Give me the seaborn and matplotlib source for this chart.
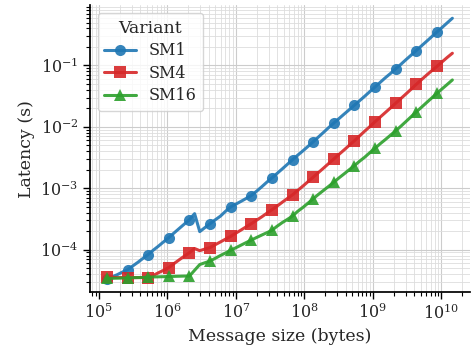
import matplotlib
matplotlib.use("Agg")
import matplotlib.pyplot as plt
import seaborn as sns
import pandas as pd

# message sizes (bytes), quarter-power-of-two steps
sizes = [
    1.311e5, 1.559e5, 1.854e5, 2.204e5, 2.621e5, 3.117e5, 3.707e5, 4.409e5,
    5.243e5, 6.235e5, 7.415e5, 8.818e5, 1.049e6, 1.247e6, 1.483e6, 1.764e6,
    2.097e6, 2.494e6, 2.966e6, 3.527e6, 4.194e6, 4.988e6, 5.932e6, 7.054e6,
    8.389e6, 9.976e6, 1.186e7, 1.411e7, 1.678e7, 1.995e7, 2.373e7, 2.822e7,
    3.355e7, 3.990e7, 4.745e7, 5.643e7, 6.711e7, 7.981e7, 9.491e7, 1.129e8,
    1.342e8, 1.596e8, 1.898e8, 2.257e8, 2.684e8, 3.192e8, 3.796e8, 4.515e8,
    5.369e8, 6.385e8, 7.593e8, 9.029e8, 1.074e9, 1.277e9, 1.519e9, 1.806e9,
    2.147e9, 2.554e9, 3.037e9, 3.612e9, 4.295e9, 5.108e9, 6.074e9, 7.224e9,
    8.590e9, 1.022e10, 1.215e10, 1.445e10,
]

# latency (s)
sm1 = [
    3.3e-5, 3.6e-5, 3.9e-5, 4.3e-5, 4.7e-5, 5.4e-5, 6.2e-5, 7.2e-5,
    8.3e-5, 9.8e-5, 1.14e-4, 1.34e-4, 1.57e-4, 1.86e-4, 2.2e-4, 2.6e-4,
    3.07e-4, 3.85e-4, 1.96e-4, 2.28e-4, 2.64e-4, 3.05e-4, 3.5e-4, 4.2e-4,
    4.95e-4, 5.5e-4, 6.1e-4, 6.8e-4, 7.6e-4, 8.9e-4, 1.05e-3, 1.25e-3,
    1.47e-3, 1.74e-3, 2.06e-3, 2.45e-3, 2.91e-3, 3.45e-3, 4.05e-3, 4.8e-3,
    5.7e-3, 6.8e-3, 8.1e-3, 9.7e-3, 1.15e-2, 1.36e-2, 1.61e-2, 1.9e-2,
    2.25e-2, 2.66e-2, 3.15e-2, 3.75e-2, 4.45e-2, 5.3e-2, 6.3e-2, 7.4e-2,
    8.8e-2, 0.104, 0.124, 0.147, 0.175, 0.208, 0.247, 0.294,
    0.35, 0.415, 0.494, 0.587,
]
sm4 = [
    3.6e-5, 3.55e-5, 3.5e-5, 3.5e-5, 3.5e-5, 3.5e-5, 3.5e-5, 3.5e-5,
    3.5e-5, 3.8e-5, 4.2e-5, 4.6e-5, 5.1e-5, 5.9e-5, 6.8e-5, 7.8e-5,
    8.9e-5, 1.04e-4, 9.6e-5, 1.02e-4, 1.08e-4, 1.2e-4, 1.33e-4, 1.48e-4,
    1.64e-4, 1.85e-4, 2.08e-4, 2.35e-4, 2.64e-4, 3.0e-4, 3.4e-4, 3.9e-4,
    4.46e-4, 5.1e-4, 5.9e-4, 6.8e-4, 7.8e-4, 9.2e-4, 1.08e-3, 1.28e-3,
    1.51e-3, 1.79e-3, 2.12e-3, 2.52e-3, 2.99e-3, 3.55e-3, 4.2e-3, 5.0e-3,
    5.93e-3, 7.1e-3, 8.5e-3, 1.01e-2, 1.21e-2, 1.44e-2, 1.71e-2, 2.03e-2,
    2.42e-2, 2.88e-2, 3.43e-2, 4.1e-2, 4.92e-2, 5.85e-2, 6.95e-2, 8.2e-2,
    9.64e-2, 0.114, 0.135, 0.158,
]
sm16 = [
    3.4e-5, 3.4e-5, 3.42e-5, 3.44e-5, 3.45e-5, 3.48e-5, 3.5e-5, 3.52e-5,
    3.55e-5, 3.58e-5, 3.6e-5, 3.62e-5, 3.65e-5, 3.66e-5, 3.68e-5, 3.7e-5,
    3.7e-5, 4.6e-5, 5.7e-5, 6.1e-5, 6.5e-5, 7.2e-5, 8.0e-5, 8.8e-5,
    9.75e-5, 1.07e-4, 1.18e-4, 1.3e-4, 1.43e-4, 1.57e-4, 1.72e-4, 1.88e-4,
    2.06e-4, 2.4e-4, 2.75e-4, 3.1e-4, 3.52e-4, 4.2e-4, 4.85e-4, 5.7e-4,
    6.72e-4, 7.9e-4, 9.2e-4, 1.07e-3, 1.25e-3, 1.47e-3, 1.71e-3, 2.0e-3,
    2.33e-3, 2.75e-3, 3.2e-3, 3.8e-3, 4.46e-3, 5.3e-3, 6.2e-3, 7.3e-3,
    8.6e-3, 1.02e-2, 1.22e-2, 1.46e-2, 1.75e-2, 2.08e-2, 2.48e-2, 2.95e-2,
    3.5e-2, 4.15e-2, 4.9e-2, 5.8e-2,
]

variants = ["SM1", "SM4", "SM16"]
colors = ["#1f77b4", "#d62728", "#2ca02c"]

df = pd.concat([
    pd.DataFrame({"size": sizes, "latency": vals, "Variant": name})
    for name, vals in zip(variants, [sm1, sm4, sm16])
])

sns.set_theme(style="ticks")
plt.rcParams["font.family"] = ["DejaVu Serif"]
plt.rcParams["mathtext.fontset"] = "dejavuserif"

fig, ax = plt.subplots(figsize=(4.72, 3.47), dpi=100)
fig.subplots_adjust(left=0.19, right=0.995, top=0.985, bottom=0.158)

sns.lineplot(data=df, x="size", y="latency", hue="Variant", style="Variant",
             palette=dict(zip(variants, colors)), markers=["o", "s", "^"],
             dashes=False, markevery=4, markersize=8, markeredgewidth=0,
             linewidth=2.2, alpha=0.9, ax=ax)

ax.set_xscale("log")
ax.set_yscale("log")
ax.grid(True, which="major", color="#cccccc", linewidth=0.8)
ax.grid(True, which="minor", color="#dddddd", linewidth=0.6)
ax.set_axisbelow(True)
sns.despine(ax=ax)
ax.tick_params(axis="both", which="major", labelsize=11.5, length=5, width=1,
               color="black", pad=3)
ax.tick_params(axis="both", which="minor", length=3, width=0.8, color="black")
ax.spines["left"].set_color("black")
ax.spines["bottom"].set_color("black")

ax.set_xlabel("Message size (bytes)", fontsize=12.5, labelpad=4)
ax.set_ylabel("Latency (s)", fontsize=12.5, labelpad=4)

leg = ax.legend(title="Variant", loc="upper left", fontsize=11.5, title_fontsize=12.5,
                frameon=True, fancybox=True, handlelength=2.0, labelspacing=0.35)
leg.get_frame().set_edgecolor("#cccccc")

fig.savefig("out.png", dpi=100)
